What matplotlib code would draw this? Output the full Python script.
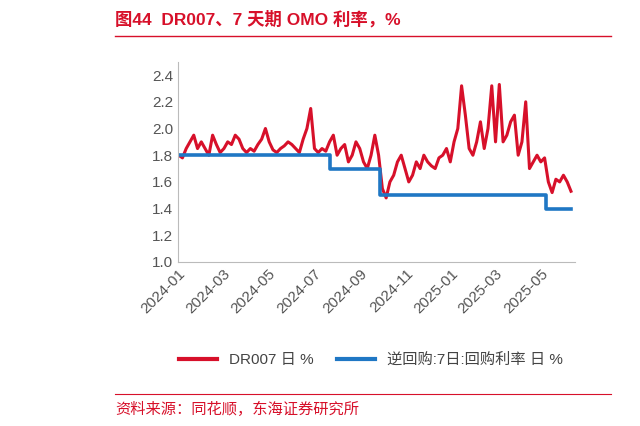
import matplotlib
matplotlib.use("Agg")
import matplotlib.pyplot as plt
import pandas as pd
import matplotlib.dates as mdates
from matplotlib.lines import Line2D

plt.rcParams['font.family'] = ['Liberation Sans', 'Noto Sans CJK SC', 'DejaVu Sans']

dr007 = [1.80,1.78,1.85,1.90,1.95,1.85,
         1.90,1.85,1.80,1.95,1.88,1.82,
         1.85,1.90,1.88,1.95,1.92,1.85,
         1.82,1.85,1.83,1.88,1.92,2.00,
         1.90,1.84,1.82,1.85,1.87,1.90,
         1.88,1.85,1.82,1.92,2.00,2.15,
         1.85,1.82,1.85,1.83,1.90,1.95,
         1.80,1.85,1.88,1.75,1.80,1.90,
         1.85,1.75,1.70,1.80,1.95,1.80,
         1.55,1.48,1.60,1.65,1.75,1.80,
         1.70,1.60,1.65,1.75,1.70,1.80,
         1.75,1.72,1.70,1.78,1.80,1.85,
         1.75,1.90,2.00,2.32,2.10,1.85,
         1.80,1.90,2.05,1.85,2.00,2.32,
         1.90,2.33,1.90,1.95,2.05,2.10,
         1.80,1.90,2.20,1.70,1.75,1.80,
         1.75,1.78,1.60,1.52,1.62,1.60,
         1.65,1.60,1.53]
dr_dates = pd.date_range('2024-01-02', '2025-06-10', periods=len(dr007))

omo_dates = pd.to_datetime(['2024-01-02','2024-07-22','2024-09-27','2025-05-08','2025-06-10'])
omo_vals = [1.8, 1.7, 1.5, 1.4, 1.4]

red = '#D7102A'
blue = '#1F77C4'

fig = plt.figure(figsize=(6.4, 4.26), dpi=100)
ax = fig.add_axes([0.278, 0.385, 0.62, 0.47])
ax.plot(dr_dates, dr007, color=red, lw=2.2)
ax.step(omo_dates, omo_vals, where='post', color=blue, lw=2.6)
ax.set_ylim(1.0, 2.5)
ax.set_yticks([1.0,1.2,1.4,1.6,1.8,2.0,2.2,2.4])
ax.set_xlim(pd.Timestamp('2024-01-01'), pd.Timestamp('2025-06-15'))
ticks = pd.to_datetime(['2024-01-01','2024-03-01','2024-05-01','2024-07-01','2024-09-01',
                        '2024-11-01','2025-01-01','2025-03-01','2025-05-01'])
ax.set_xticks(ticks)
ax.xaxis.set_major_formatter(mdates.DateFormatter('%Y-%m'))
plt.setp(ax.get_xticklabels(), rotation=45, ha='right', rotation_mode='anchor')
ax.tick_params(labelsize=11, colors='#555555', length=0)
for s in ['top','right']:
    ax.spines[s].set_visible(False)
for s in ['left','bottom']:
    ax.spines[s].set_color('#BBBBBB')

fig.text(0.18, 0.955, '图44  DR007、7 天期 OMO 利率，%', color=red, fontsize=12.5,
         fontweight='bold', va='center')
fig.add_artist(Line2D([0.18, 0.955], [0.915, 0.915], color=red, lw=1))
fig.add_artist(Line2D([0.18, 0.955], [0.075, 0.075], color=red, lw=0.8))
fig.text(0.18, 0.04, '资料来源：同花顺，东海证券研究所', color=red, fontsize=11, va='center')

handles = [Line2D([], [], color=red, lw=3), Line2D([], [], color=blue, lw=3)]
fig.legend(handles, ['DR007 日 %', '逆回购:7日:回购利率 日 %'], loc='center',
           bbox_to_anchor=(0.58, 0.155), ncol=2, frameon=False, fontsize=11,
           handlelength=2.5, columnspacing=1.5, labelcolor='#444444')
fig.savefig('out.png', dpi=100)
